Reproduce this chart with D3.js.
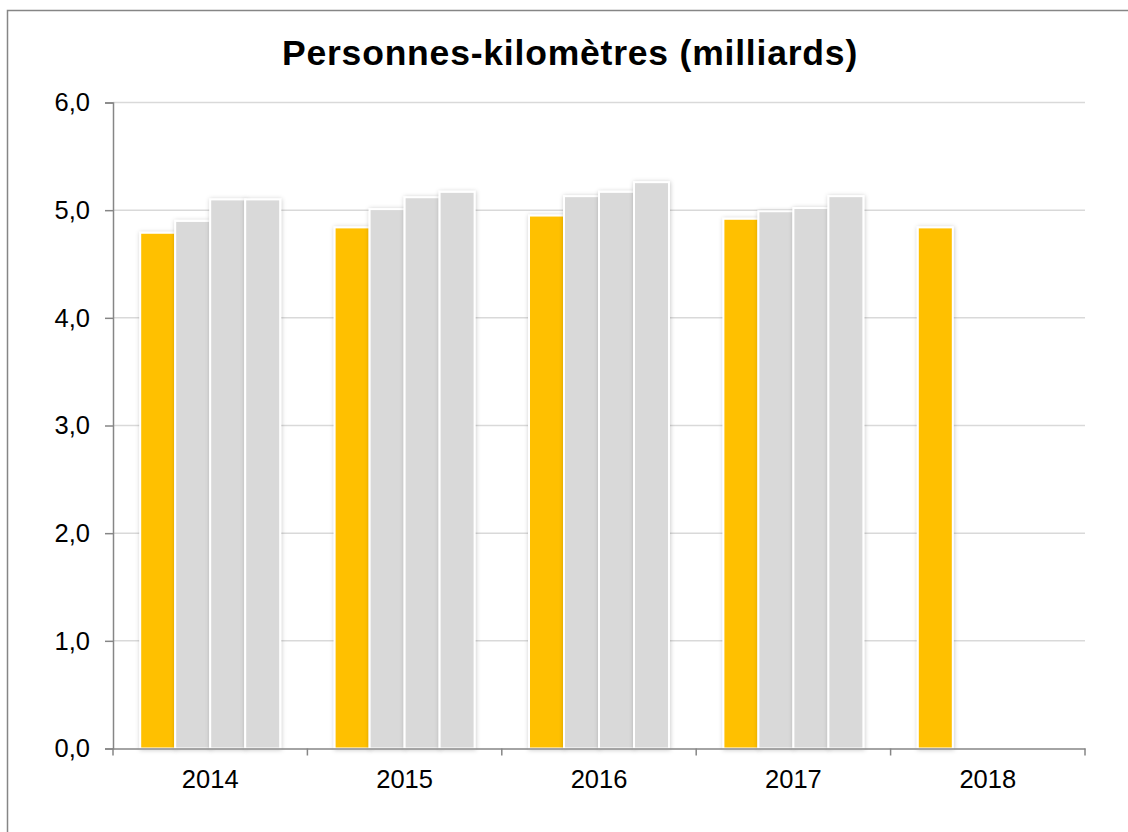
<!DOCTYPE html>
<html>
<head>
<meta charset="utf-8">
<script src="https://cdn.jsdelivr.net/npm/d3@7"></script>
<style>
  body { margin: 0; background: #fff; }
  text { font-family: Arial, "Liberation Sans", sans-serif; }
</style>
</head>
<body>
<div id="chart"></div>
<script>
// data
const years = ["2014", "2015", "2016", "2017", "2018"]
const serie1 = [4.79, 4.84, 4.95, 4.92, 4.84]
const serie2 = [4.90, 5.01, 5.13, 4.99, null]
const serie3 = [5.10, 5.12, 5.17, 5.02, null]
const serie4 = [5.10, 5.17, 5.26, 5.13, null]
const yTicks = [0, 1, 2, 3, 4, 5, 6]
const title = "Personnes-kilomètres (milliards)"

const series = [serie1, serie2, serie3, serie4]
const colors = ["#FFC000", "#D9D9D9", "#D9D9D9", "#D9D9D9"]

const W = 1128, H = 832
const margin = { top: 102.5, right: 43, bottom: 83.5, left: 113 }
const width = W - margin.left - margin.right
const height = H - margin.top - margin.bottom

const svg = d3.select("#chart").append("svg")
    .attr("width", W)
    .attr("height", H)

// soft shadow under bars
const defs = svg.append("defs")
const f = defs.append("filter").attr("id", "shadow")
    .attr("x", "-20%").attr("y", "-5%").attr("width", "140%").attr("height", "110%")
f.append("feDropShadow")
    .attr("dx", 0.5).attr("dy", 0.5).attr("stdDeviation", 2)
    .attr("flood-color", "#000").attr("flood-opacity", 0.22)

// outer frame
svg.append("rect")
    .attr("x", 7.5).attr("y", 10.5)
    .attr("width", W + 20).attr("height", H + 20)
    .attr("fill", "none")
    .attr("stroke", "#868686")
    .attr("stroke-width", 1.5)

svg.append("text")
    .attr("x", 570).attr("y", 65)
    .attr("text-anchor", "middle")
    .attr("font-size", 35.5)
    .attr("font-weight", "bold")
    .attr("letter-spacing", 0.8)
    .text(title)

const g = svg.append("g")
    .attr("transform", `translate(${margin.left}, ${margin.top})`)

const x0 = d3.scaleBand().domain(years).range([0, width]).padding(0)
const barW = 35
const x1 = d3.scaleBand().domain(d3.range(4))
    .range([(x0.bandwidth() - 4 * barW) / 2, (x0.bandwidth() + 4 * barW) / 2])

const yScale = d3.scaleLinear().domain([0, 6]).range([height, 0])

// gridlines
g.selectAll(".grid")
    .data(yTicks.slice(1))
    .enter().append("line")
    .attr("x1", 0).attr("x2", width)
    .attr("y1", d => yScale(d)).attr("y2", d => yScale(d))
    .attr("stroke", "#D9D9D9")
    .attr("stroke-width", 1.5)

// bars
const rows = []
years.forEach((yr, i) => {
    series.forEach((s, k) => {
        if (s[i] != null) rows.push({ year: yr, k: k, v: s[i] })
    })
})

g.selectAll(".bar")
    .data(rows)
    .enter().append("rect")
    .attr("x", d => x0(d.year) + x1(d.k))
    .attr("y", d => yScale(d.v))
    .attr("width", x1.bandwidth())
    .attr("height", d => height - yScale(d.v))
    .attr("fill", d => colors[d.k])
    .attr("stroke", "#fff")
    .attr("stroke-width", 2)
    .attr("filter", "url(#shadow)")

// axes
const yAxis = d3.axisLeft(yScale)
    .tickValues(yTicks)
    .tickSize(8)
    .tickPadding(15)
    .tickFormat(d => d3.format(".1f")(d).replace(".", ","))

const yg = g.append("g").call(yAxis)
yg.select(".domain").attr("stroke", "#868686").attr("stroke-width", 1.5)
yg.selectAll(".tick line").attr("stroke", "#868686").attr("stroke-width", 1.5)
yg.selectAll("text").attr("font-size", 25.5).attr("fill", "#000")

const xAxis = d3.axisBottom(x0).tickSize(0).tickPadding(21)
const xg = g.append("g")
    .attr("transform", `translate(0, ${height})`)
    .call(xAxis)
xg.select(".domain").attr("stroke", "#868686").attr("stroke-width", 1.5)
xg.selectAll("text").attr("font-size", 25.5).attr("fill", "#000")

// category separator ticks
xg.selectAll(".sep")
    .data(years.map(d => x0(d)).concat([width]))
    .enter().append("line")
    .attr("x1", d => d).attr("x2", d => d)
    .attr("y1", 0).attr("y2", 7)
    .attr("stroke", "#868686")
    .attr("stroke-width", 1.5)
</script>
</body>
</html>
